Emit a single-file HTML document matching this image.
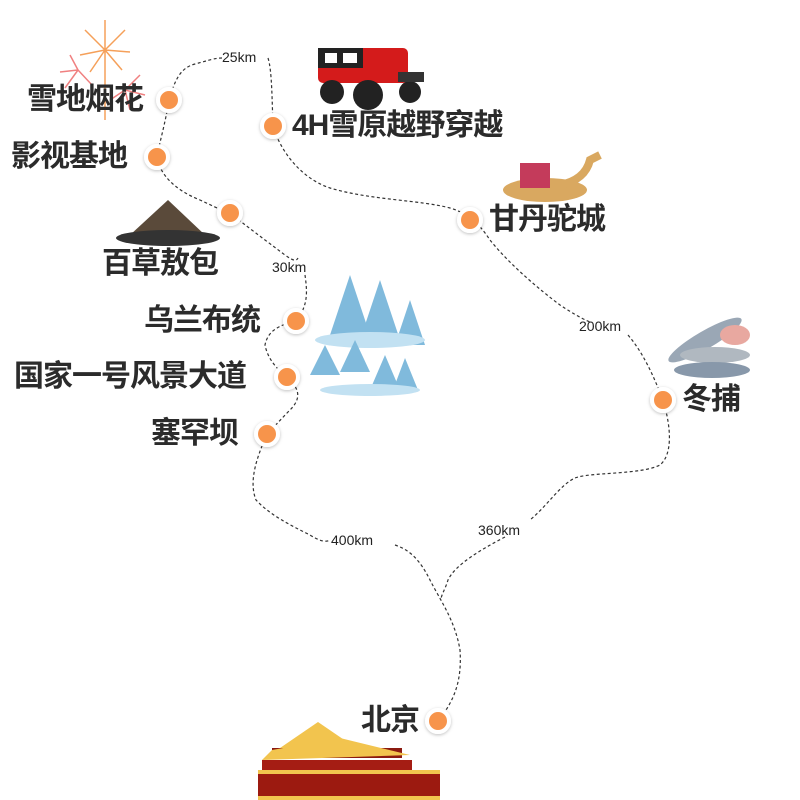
<!DOCTYPE html>
<html><head><meta charset="utf-8"><style>
html,body{margin:0;padding:0;background:#fff}
.w{position:relative;width:800px;height:800px;overflow:hidden;background:#fff}
.l{position:absolute;font-family:"Liberation Sans","Noto Sans CJK SC",sans-serif;font-weight:bold;font-size:30px;color:#2b2b2b;white-space:nowrap;line-height:1;letter-spacing:-1px}
</style></head><body><div class="w">
<svg width="800" height="800" style="position:absolute;left:0;top:0">
<defs><filter id="s" x="-50%" y="-50%" width="200%" height="200%"><feDropShadow dx="0" dy="1" stdDeviation="1.5" flood-color="#000" flood-opacity="0.25"/></filter></defs>
<g fill="none" stroke="#333" stroke-width="1.2" stroke-dasharray="3,2.5">
<path d="M169,100 C175,80 180,68 195,64 S215,58 222,58 M268,58 C272,70 272,100 273,126 C280,150 300,178 330,188 C370,200 420,200 450,208 C470,214 480,225 490,240 C510,265 540,290 560,305 C575,315 585,320 590,322 M628,335 C645,355 655,380 663,400 C672,430 672,455 660,465 C640,475 590,472 575,478 C560,485 548,505 530,520 M505,537 C480,550 455,565 448,580 C445,590 441,595 441,600"/>
<path d="M169,100 C165,125 160,140 157,157 C160,175 175,190 200,200 C215,207 225,212 230,213 C245,225 265,240 285,255 C292,260 296,262 298,258 M305,275 C307,290 309,305 296,321 C280,325 268,330 265,345 C268,360 278,370 287,377 C295,385 305,395 290,410 C282,418 275,426 267,434 C258,455 248,480 256,500 C270,515 290,525 310,535 C318,540 325,543 330,540 M395,545 C410,550 420,560 430,580 C440,600 455,620 460,650 C462,680 455,700 438,721"/>
</g>
<g fill="#f7944b" stroke="#fff" stroke-width="4" filter="url(#s)">
<circle cx="169" cy="100" r="11"/><circle cx="273" cy="126" r="11"/><circle cx="157" cy="157" r="11"/><circle cx="230" cy="213" r="11"/><circle cx="470" cy="220" r="11"/><circle cx="296" cy="321" r="11"/><circle cx="287" cy="377" r="11"/><circle cx="663" cy="400" r="11"/><circle cx="267" cy="434" r="11"/><circle cx="438" cy="721" r="11"/>
</g>
<g font-family="Liberation Sans,sans-serif" font-size="14" fill="#222">
<text x="222" y="62">25km</text><text x="272" y="272">30km</text><text x="579" y="331">200km</text><text x="478" y="535">360km</text><text x="331" y="545">400km</text>
</g>
<g stroke-width="1.5">
<g stroke="#f5a05a"><path d="M105,50 L105,20 M105,50 L125,30 M105,50 L130,52 M105,50 L122,70 M105,50 L85,30 M105,50 L80,55 M105,50 L90,72 M105,50 L105,120"/></g>
<g stroke="#f08080"><path d="M78,70 L70,55 M78,70 L60,72 M78,70 L65,88 M78,70 L92,85 M125,90 L140,75 M125,90 L145,95 M125,90 L130,110 M125,90 L110,100"/></g>
</g>
<g><rect x="318" y="48" width="90" height="35" rx="5" fill="#d41b1b"/><rect x="318" y="48" width="45" height="20" fill="#222"/><rect x="325" y="53" width="12" height="10" fill="#fff"/><rect x="343" y="53" width="14" height="10" fill="#fff"/>
<circle cx="332" cy="92" r="12" fill="#222"/><circle cx="368" cy="95" r="15" fill="#222"/><circle cx="410" cy="92" r="11" fill="#222"/><rect x="398" y="72" width="26" height="10" fill="#333"/></g>
<g><ellipse cx="545" cy="190" rx="42" ry="12" fill="#d9a860"/><rect x="520" y="163" width="30" height="25" fill="#c43b5b"/><path d="M560,185 Q585,180 590,160 L600,155" stroke="#d9a860" stroke-width="8" fill="none"/></g>
<g><polygon points="168,200 130,235 205,235" fill="#5a4a3a"/><ellipse cx="168" cy="238" rx="52" ry="8" fill="#333"/></g>
<g fill="#6aaed6" opacity="0.85"><polygon points="350,275 330,335 370,335"/><polygon points="380,280 360,340 400,340"/><polygon points="410,300 395,345 425,345"/><ellipse cx="370" cy="340" rx="55" ry="8" fill="#b8dcf0"/><polygon points="325,345 310,375 340,375"/><polygon points="355,340 340,372 370,372"/><polygon points="385,355 370,390 400,390"/><polygon points="405,358 393,390 418,390"/><ellipse cx="370" cy="390" rx="50" ry="6" fill="#b8dcf0"/></g>
<g fill="#9aa7b5"><ellipse cx="705" cy="340" rx="42" ry="9" transform="rotate(-30 705 340)"/><ellipse cx="715" cy="355" rx="35" ry="8" fill="#b0b8c0"/><ellipse cx="712" cy="370" rx="38" ry="8" fill="#8898aa"/><ellipse cx="735" cy="335" rx="15" ry="10" fill="#e8a8a0"/></g>
<g><polygon points="318,722 280,748 356,748" fill="#f2c44e"/><rect x="272" y="748" width="130" height="10" fill="#8b1a10"/><polygon points="272,750 340,738 410,755 262,760" fill="#f2c44e"/><rect x="262" y="760" width="150" height="10" fill="#a51d14"/><rect x="258" y="770" width="182" height="4" fill="#f2c44e"/><rect x="258" y="774" width="182" height="24" fill="#9c1a10"/><rect x="258" y="796" width="182" height="4" fill="#f2c44e"/></g>
</svg>
<div class="l" style="left:27px;top:85px">雪地烟花</div>
<div class="l" style="left:292px;top:111px">4H雪原越野穿越</div>
<div class="l" style="left:11px;top:142px">影视基地</div>
<div class="l" style="left:102px;top:249px">百草敖包</div>
<div class="l" style="left:489px;top:205px">甘丹驼城</div>
<div class="l" style="left:144px;top:306px">乌兰布统</div>
<div class="l" style="left:14px;top:362px">国家一号风景大道</div>
<div class="l" style="left:682px;top:385px">冬捕</div>
<div class="l" style="left:151px;top:419px">塞罕坝</div>
<div class="l" style="left:361px;top:706px">北京</div>
</div></body></html>
